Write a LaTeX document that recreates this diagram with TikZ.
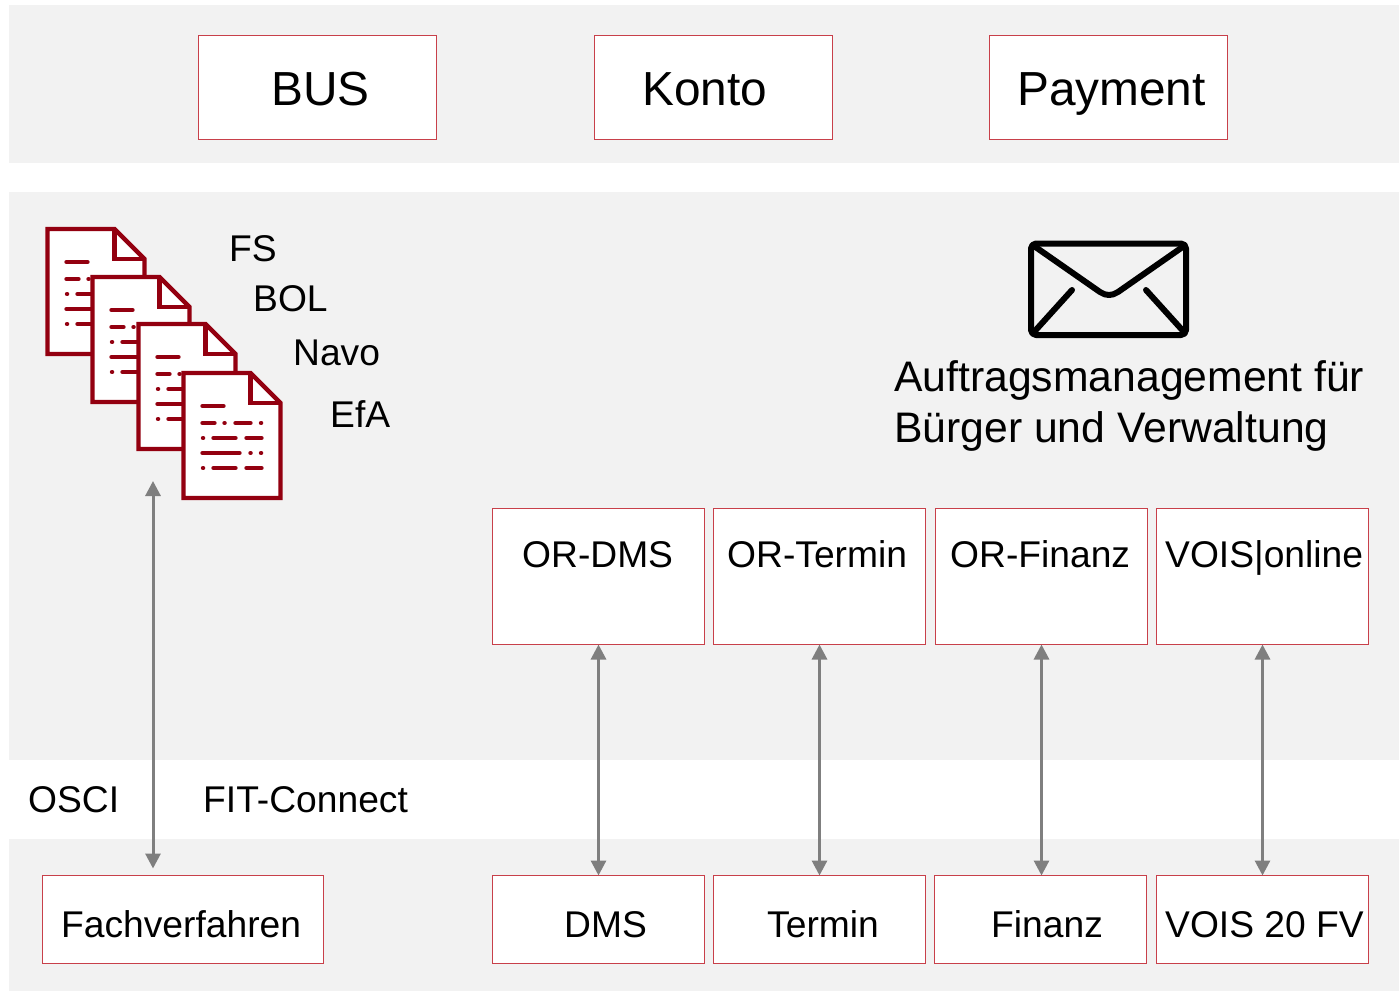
\documentclass[tikz,border=0pt]{standalone}
\usepackage{fontspec}
\setmainfont{Liberation Sans}
\usetikzlibrary{arrows.meta}
\definecolor{band}{HTML}{F2F2F2}
\definecolor{boxred}{HTML}{C8404A}
\definecolor{docred}{HTML}{930010}
\definecolor{arrgray}{HTML}{7F7F7F}
\newcommand{\fsz}[1]{\fontsize{#1}{#1}\selectfont}
\tikzset{
  bandfill/.style={fill=band,draw=none},
  redbox/.style={draw=boxred,line width=0.8pt,fill=white,anchor=north west,inner sep=0pt,outer sep=0pt},
  bigtext/.style={anchor=base west,inner sep=0pt,font=\fsz{47.8}},
  midtext/.style={anchor=base west,inner sep=0pt,font=\fsz{37.2}},
  longtext/.style={anchor=base west,inner sep=0pt,font=\fsz{42.7}},
  twoway/.style={draw=arrgray,line width=3pt,{Triangle[width=15pt,length=15pt]}-{Triangle[width=15pt,length=15pt]}},
  docline/.style={draw=docred,line width=4.4pt,line cap=round},
  docsheet/.style={draw=docred,line width=4.4pt,fill=white,line join=miter},
  envline/.style={draw=black,line width=6pt,line cap=round,line join=round}
}
\newcommand{\docicon}[2]{%
  \begin{scope}[shift={(#1,#2)}]
    \draw[docsheet] (0,0) -- (67,0) -- (97,30) -- (97,125) -- (0,125) -- cycle;
    \draw[docsheet,fill=none] (67,0) -- (67,30) -- (97,30);
    \draw[docline] (19,33) -- (40,33);
    \draw[docline] (19,50) -- (31,50);
    \draw[docline] (41,50) -- (41.1,50);
    \draw[docline] (52,50) -- (67,50);
    \draw[docline] (77.5,50) -- (77.6,50);
    \draw[docline] (19.5,65) -- (19.6,65);
    \draw[docline] (30,65) -- (52,65);
    \draw[docline] (63,65) -- (78,65);
    \draw[docline] (19,80) -- (56,80);
    \draw[docline] (67,80) -- (67.1,80);
    \draw[docline] (77.5,80) -- (77.6,80);
    \draw[docline] (19.5,95) -- (19.6,95);
    \draw[docline] (30,95) -- (52,95);
    \draw[docline] (63,95) -- (78,95);
  \end{scope}}
\begin{document}
\begin{tikzpicture}[x=1pt,y=-1pt]
\useasboundingbox (0,0) rectangle (1399,991);
\fill[white] (0,0) rectangle (1399,991);
\fill[bandfill] (9,5) rectangle (1399,163);
\fill[bandfill] (9,192) rectangle (1399,760);
\fill[bandfill] (9,839) rectangle (1399,991);

% top row
\node[redbox,minimum width=238pt,minimum height=104pt] (bus) at (198.5,35.5) {};
\node[redbox,minimum width=238pt,minimum height=104pt] (konto) at (594.5,35.5) {};
\node[redbox,minimum width=238pt,minimum height=104pt] (payment) at (989.5,35.5) {};
\node[bigtext] (tbus) at (271,105) {BUS};
\node[bigtext] (tkonto) at (642,105) {Konto};
\node[bigtext] (tpayment) at (1017,105) {Payment};

% documents
\docicon{47.5}{229}
\docicon{92.5}{277}
\docicon{138.5}{324}
\docicon{183.5}{373}
\node[midtext] (fs) at (229,261) {FS};
\node[midtext] (bol) at (253,311) {BOL};
\node[midtext] (navo) at (293,365) {Navo};
\node[midtext] (efa) at (330,427) {EfA};

% envelope
\draw[envline,rounded corners=5pt] (1031,243.5) rectangle (1186,335);
\draw[envline] (1034,246) -- (1100,292) .. controls (1106,296) and (1112,296) .. (1118,292) -- (1184,246);
\draw[envline] (1034,332) -- (1072,290);
\draw[envline] (1184,332) -- (1146,290);
\node[longtext] (auf1) at (894,391) {Auftragsmanagement für};
\node[longtext] (auf2) at (894,442) {Bürger und Verwaltung};

% OR row
\node[redbox,minimum width=212pt,minimum height=136pt] (ordms) at (492.5,508.5) {};
\node[redbox,minimum width=212pt,minimum height=136pt] (ortermin) at (713.5,508.5) {};
\node[redbox,minimum width=212pt,minimum height=136pt] (orfinanz) at (935.5,508.5) {};
\node[redbox,minimum width=212pt,minimum height=136pt] (voisonline) at (1156.5,508.5) {};
\node[midtext] (tordms) at (522,567) {OR-DMS};
\node[midtext] (tortermin) at (727,567) {OR-Termin};
\node[midtext] (torfinanz) at (950,567) {OR-Finanz};
\node[midtext] (tvoisonline) at (1165,567) {VOIS|online};

% bottom row
\node[redbox,minimum width=280.5pt,minimum height=88pt] (fach) at (42.5,875.5) {};
\node[redbox,minimum width=212pt,minimum height=88pt] (dms) at (492.5,875.5) {};
\node[redbox,minimum width=212pt,minimum height=88pt] (termin) at (713.5,875.5) {};
\node[redbox,minimum width=212pt,minimum height=88pt] (finanz) at (934.5,875.5) {};
\node[redbox,minimum width=212pt,minimum height=88pt] (vois) at (1156.5,875.5) {};
\node[midtext] (tfach) at (61,937) {Fachverfahren};
\node[midtext] (tdms) at (564,937) {DMS};
\node[midtext] (ttermin) at (767,937) {Termin};
\node[midtext] (tfinanz) at (991,937) {Finanz};
\node[midtext] (tvois) at (1165,937) {VOIS 20 FV};

\node[midtext] (osci) at (28,812) {OSCI};
\node[midtext] (fit) at (203,812) {FIT-Connect};

% connectors
\coordinate (docend) at (153,481);
\coordinate (fachend) at (153,868.5);
\draw[twoway] (docend) -- (fachend);
\draw[twoway] (ordms.south) -- (ordms.south |- dms.north);
\draw[twoway] (ortermin.south) -- (ortermin.south |- termin.north);
\draw[twoway] (orfinanz.south) -- (orfinanz.south |- finanz.north);
\draw[twoway] (voisonline.south) -- (voisonline.south |- vois.north);
\end{tikzpicture}
\end{document}
